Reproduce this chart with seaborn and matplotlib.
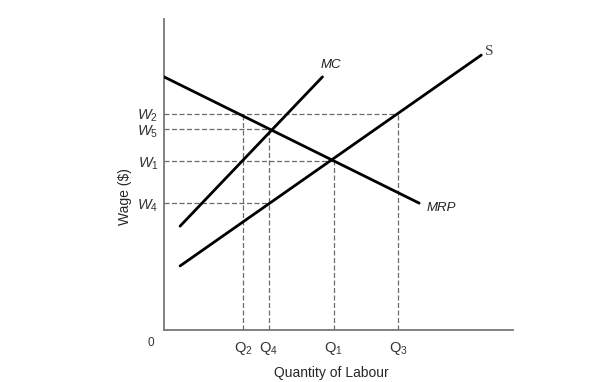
import matplotlib
matplotlib.use("Agg")
from matplotlib import pyplot as plt
import pandas as pd
import seaborn as sns

# values (arbitrary units, axes 0..10)
q_labels = ["Q2", "Q4", "Q1", "Q3"]
q_values = [2.26, 3.0, 4.86, 6.71]
w_labels = ["W2", "W5", "W1", "W4"]
w_values = [6.95, 6.46, 5.43, 4.08]

mrp_x = [0.0, 7.31]
mrp_y = [8.14, 4.08]
mc_x = [0.46, 4.54]
mc_y = [3.34, 8.14]
s_x = [0.46, 9.09]
s_y = [2.06, 8.84]

# dashed guides: tops of the verticals, right ends of the horizontals
v_tops = [6.95, 6.46, 5.43, 6.95]
h_ends = [6.71, 3.0, 4.86, 3.0]

sns.set_style("white")
plt.rcParams["font.family"] = ["Liberation Sans", "DejaVu Sans"]
plt.rcParams["mathtext.fontset"] = "custom"
plt.rcParams["mathtext.rm"] = "Liberation Sans"
plt.rcParams["mathtext.it"] = "Liberation Sans:italic"

fig = plt.figure(figsize=(6.15, 3.82), dpi=100)
ax = fig.add_axes([0.2667, 0.1361, 0.5675, 0.8141])

curves = pd.concat([
    pd.DataFrame({"x": mrp_x, "y": mrp_y, "curve": "MRP"}),
    pd.DataFrame({"x": mc_x, "y": mc_y, "curve": "MC"}),
    pd.DataFrame({"x": s_x, "y": s_y, "curve": "S"}),
])

guide = dict(color="#6a6a6a", lw=0.9, ls=(0, (4, 2)), zorder=1)
for x, top in zip(q_values, v_tops):
    ax.plot([x, x], [0, top], **guide)
for y, right in zip(w_values, h_ends):
    ax.plot([0, right], [y, y], **guide)

sns.lineplot(data=curves, x="x", y="y", units="curve", estimator=None,
             sort=False, color="black", lw=2.0, ax=ax, zorder=3)

ax.set_xlim(0, 10)
ax.set_ylim(0, 10)
for side in ["top", "right"]:
    ax.spines[side].set_visible(False)
for side in ["left", "bottom"]:
    ax.spines[side].set_color("#777777")
    ax.spines[side].set_linewidth(1.3)

ax.set_xticks(q_values)
ax.set_xticklabels([r"$\mathrm{Q}_{%s}$" % l[1] for l in q_labels], fontsize=10.5,
                   color="#333333")
ax.set_yticks(w_values)
ax.set_yticklabels([r"$W_{%s}$" % l[1] for l in w_labels], fontsize=10.5,
                   color="#333333")
ax.tick_params(axis="x", length=0, pad=7)
ax.tick_params(axis="y", length=0, pad=4)
ax.set_xlabel("")
ax.set_ylabel("")

ax.text(-0.37, -0.42, "0", fontsize=8.5, color="#333333", ha="center", va="center")
ax.text(4.8, -1.38, "Quantity of Labour", fontsize=10, ha="center", va="center",
        clip_on=False)
ax.text(-1.11, 4.3, "Wage ($)", fontsize=10, rotation=90, ha="center",
        va="center", clip_on=False)

ax.text(4.77, 8.52, "MC", fontsize=9.5, style="italic", color="#222222",
        ha="center", va="center")
ax.text(7.94, 3.92, "MRP", fontsize=9.5, style="italic", color="#222222",
        ha="center", va="center")
ax.text(9.31, 8.94, "S", fontsize=11, family="Liberation Serif",
        color="#444444", ha="center", va="center")

fig.savefig("out.png", dpi=100, facecolor="white")
